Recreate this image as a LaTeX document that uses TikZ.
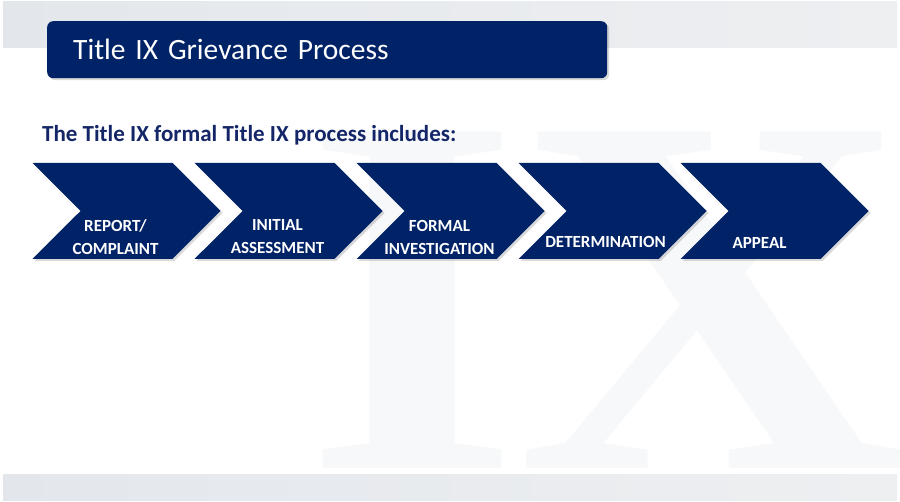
\documentclass[tikz,border=0pt]{standalone}
\usepackage{fontspec}
\usepackage{graphicx}
\setmainfont{Carlito}
\newfontfamily\wmfont{Liberation Serif}
\usetikzlibrary{shapes.symbols}
\usetikzlibrary{shadows}
\usetikzlibrary{positioning}

\definecolor{navy}{RGB}{0,34,102}
\definecolor{introblue}{RGB}{20,38,104}
\definecolor{bandleft}{RGB}{227,231,236}
\definecolor{bandright}{RGB}{238,239,241}
\definecolor{wmgrey}{RGB}{247,248,250}

\begin{document}
\begin{tikzpicture}[x=1pt,y=-1pt,node distance=162pt,
	stage node/.style={signal,signal from=west,signal to=east,
		signal pointer angle=90,fill=navy,minimum width=188pt,
		minimum height=96pt,inner sep=0pt,
		drop shadow={shadow xshift=2pt,shadow yshift=-2pt,opacity=0.3}},
	stage text/.style={text=white,align=center,
		font=\bfseries\fontsize{17}{23}\selectfont},
	watermark/.style={anchor=base west,inner sep=0pt,text=wmgrey,
		font=\wmfont\bfseries\fontsize{514}{514}\selectfont}]
	
	\useasboundingbox (0,0) rectangle (900,502);
	
	% background bands and watermark
	\fill[left color=bandleft,right color=bandright] (3,2) rectangle (897,48);
	\node[watermark] (wm i) at (304,468) {\scalebox{1.08}[1]{I}};
	\node[watermark] (wm x) at (516,468) {\scalebox{1.057}[1]{X}};
	\fill[left color=bandleft,right color=bandright] (3,475) rectangle (897,500);
	
	\node[anchor=north west,fill=navy,rounded corners=6pt,text=white,
		minimum height=57pt,text width=508pt,inner xsep=26pt,align=left,
		font=\fontsize{29.5}{34}\selectfont,
		drop shadow={shadow xshift=2pt,shadow yshift=-2pt,opacity=0.3}]
		(title) at (47,21) {Title IX Grievance Process};
	
	\node[anchor=base west,inner sep=0pt,text=introblue,
		font=\bfseries\fontsize{23}{27}\selectfont]
		(intro) at (42,142) {The Title IX formal Title IX process includes:};
	
	% process stages
	\node[stage node] (report) at (126.5,211) {};
	\node[stage node] (assess) [right of=report] {};
	\node[stage node] (invest) [right of=assess] {};
	\node[stage node] (determ) [right of=invest] {};
	\node[stage node] (appeal) [right of=determ] {};
	
	\node[stage text] (report text) at ([xshift=-11pt,yshift=-26pt]report.center) {REPORT/\\COMPLAINT};
	\node[stage text] (assess text) at ([xshift=-11pt,yshift=-26pt]assess.center) {INITIAL\\ASSESSMENT};
	\node[stage text] (invest text) at ([xshift=-11pt,yshift=-26pt]invest.center) {FORMAL\\INVESTIGATION};
	\node[stage text] (determ text) at ([xshift=-7pt,yshift=-31pt]determ.center) {DETERMINATION};
	\node[stage text] (appeal text) at ([xshift=-15pt,yshift=-32pt]appeal.center) {APPEAL};
\end{tikzpicture}
\end{document}
